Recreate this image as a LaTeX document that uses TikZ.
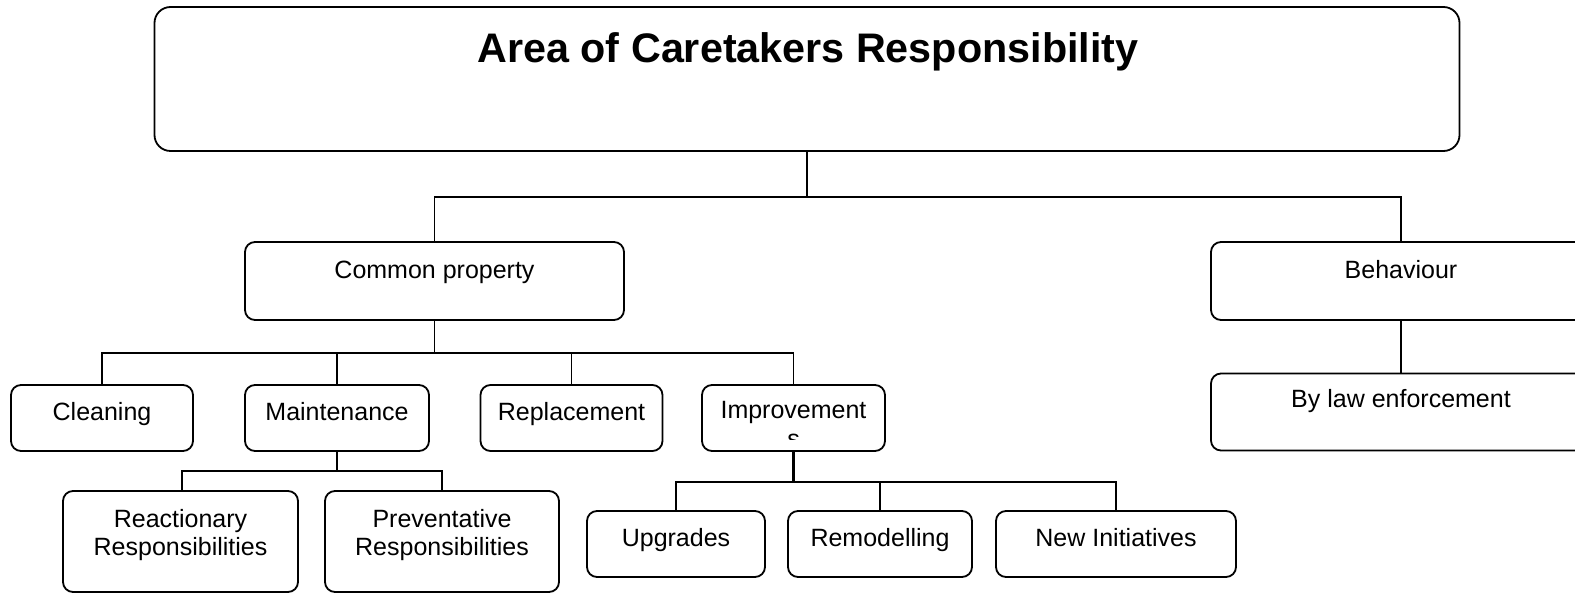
\documentclass[tikz,border=0pt]{standalone}
\usepackage{fontspec}
\setmainfont{Liberation Sans}
\begin{document}
\begin{tikzpicture}[x=1pt,y=-1pt,
  box/.style={draw, line width=1.8pt, rounded corners=10pt, inner sep=0pt, fill=white},
  conn/.style={line width=1.8pt},
  lbl/.style={inner sep=0pt, anchor=base, font=\fontsize{25}{28.5}\selectfont}]
\useasboundingbox (0,0) rectangle (1575,593);
\fill[white] (0,0) rectangle (1575,593);
\clip (0,0) rectangle (1575,593);

% boxes
\node[box, rounded corners=16pt, minimum width=1305pt, minimum height=144pt] (top) at (807,79) {};
\node[box, minimum width=379pt, minimum height=78pt] (cp) at (434.5,281) {};
\node[box, minimum width=380pt, minimum height=78pt] (beh) at (1401,281) {};
\node[box, minimum width=380pt, minimum height=77pt] (law) at (1401,412) {};
\node[box, minimum width=182pt, minimum height=66pt] (clean) at (102,418) {};
\node[box, minimum width=184pt, minimum height=66pt] (maint) at (337,418) {};
\node[box, minimum width=182pt, minimum height=66pt] (repl) at (571.5,418) {};
\node[box, minimum width=183pt, minimum height=66pt] (impr) at (793.5,418) {};
\node[box, minimum width=235pt, minimum height=101pt] (react) at (180.5,541.5) {};
\node[box, minimum width=234pt, minimum height=101pt] (prev) at (442,541.5) {};
\node[box, minimum width=178pt, minimum height=66pt] (upg) at (676,544) {};
\node[box, minimum width=184pt, minimum height=66pt] (remod) at (880,544) {};
\node[box, minimum width=240pt, minimum height=66pt] (newi) at (1116,544) {};

% connectors
\coordinate (b1) at (807,197);
\draw[conn] (top.south) -- (b1);
\draw[conn] (cp.north) |- (b1) -| (beh.north);
\draw[conn] (beh.south) -- (law.north);

\coordinate (b2) at (434.5,353);
\draw[conn] (cp.south) -- (b2);
\draw[conn] (clean.north) |- (b2) -| (impr.north);
\draw[conn] (maint.north) -- (maint.north |- b2);
\draw[conn] (repl.north) -- (repl.north |- b2);

\coordinate (b3) at (337,471);
\draw[conn] (maint.south) -- (b3);
\draw[conn] (react.north) ++(1.5,0) coordinate (rn) (rn) |- (b3) -| (prev.north);

\coordinate (b4) at (793.5,482);
\draw[conn, line width=2.6pt] (impr.south) -- (b4);
\draw[conn] (upg.north) |- (b4) -| (newi.north);
\draw[conn] (remod.north) -- (remod.north |- b4);

% labels
\node[inner sep=0pt, anchor=base, font=\fontsize{41.3}{49}\selectfont\bfseries] (ttop) at (808,63) {Area of Caretakers Responsibility};
\node[lbl] (tcp) at (434.5,278.5) {Common property};
\node[lbl] (tbeh) at (1401,278.5) {Behaviour};
\node[lbl] (tlaw) at (1401,408) {By law enforcement};
\node[lbl] (tclean) at (102,421) {Cleaning};
\node[lbl] (tmaint) at (337,421) {Maintenance};
\node[lbl] (trepl) at (571.5,421) {Replacement};
\begin{scope}
\clip (702,385) rectangle (885,440);
\node[lbl] (timpr) at (793.5,419) {\parbox[t]{180pt}{\centering\fontsize{25}{28.5}\selectfont Improvement\\s}};
\end{scope}
\node[lbl] (treact) at (180.5,527) {\parbox[t]{230pt}{\centering\fontsize{25}{28.5}\selectfont Reactionary\\Responsibilities}};
\node[lbl] (tprev) at (442,527) {\parbox[t]{230pt}{\centering\fontsize{25}{28.5}\selectfont Preventative\\Responsibilities}};
\node[lbl] (tupg) at (676,546) {Upgrades};
\node[lbl] (tremod) at (880,546) {Remodelling};
\node[lbl] (tnewi) at (1116,546) {New Initiatives};
\end{tikzpicture}
\end{document}
